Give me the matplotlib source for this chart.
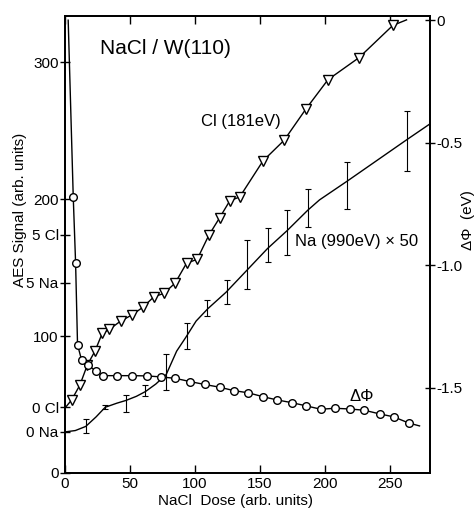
import matplotlib
matplotlib.use("Agg")
import matplotlib.pyplot as plt

plt.rcParams['font.family'] = ['Liberation Sans', 'DejaVu Sans']

# Cl (181 eV) AES signal, open triangles (left axis)
dose_cl = [5.1, 11.5, 17.2, 23.1, 28.7, 34.1, 42.8, 51.3, 59.8, 68.5, 76.2, 84.8,
           93.6, 101.8, 110.8, 119.2, 126.9, 134.6, 152.5, 168.7, 185.6, 202.5,
           226.4, 252.5]
cl = [53.3, 64.2, 78.8, 89.0, 102.0, 104.9, 110.9, 115.3, 120.9, 128.7, 131.2,
      138.7, 153.2, 156.1, 173.7, 186.6, 198.8, 201.7, 228.0, 243.0, 266.0,
      287.3, 303.4, 327.0]
cl_line_x = [0.5] + dose_cl + [263.0]
cl_line_y = [48.0] + cl + [331.0]

# Na (990 eV) x 50 AES signal with error bars (left axis)
dose_na = [16.2, 30.8, 46.7, 62.0, 77.7, 93.6, 109.5, 124.4, 140.2, 156.4,
           171.0, 187.2, 217.2, 263.6]
na = [34.1, 48.0, 50.9, 60.2, 73.7, 100.1, 120.4, 132.1, 152.3, 166.4, 175.5,
      193.8, 209.9, 242.6]
na_err = [5.1, 1.5, 6.0, 4.0, 13.0, 9.6, 5.8, 8.8, 18.2, 12.2, 16.4, 14.0,
          17.4, 22.0]
na_curve_x = [0, 8, 16, 24, 31, 40, 47, 55, 62, 70, 78, 86, 93, 101, 110, 124,
              140, 156, 171, 187, 196, 217, 264, 281]
na_curve_y = [30, 31, 34, 41, 48, 51, 53, 56, 59.5, 65, 72, 89, 99, 111, 120,
              132, 148, 164, 177, 192, 199.5, 213, 244, 255]

# work function change, open circles (right axis, eV)
dose_phi = [6.4, 8.2, 9.7, 12.8, 17.4, 23.6, 29.0, 40.3, 51.8, 62.8, 73.8, 85.0,
            96.2, 107.6, 119.0, 130.0, 141.2, 152.6, 163.3, 174.5, 185.6, 197.0,
            208.0, 219.2, 230.5, 242.3, 253.1, 264.6]
phi = [-0.722, -0.989, -1.324, -1.386, -1.406, -1.430, -1.450, -1.450, -1.450,
       -1.451, -1.455, -1.461, -1.474, -1.486, -1.497, -1.511, -1.520, -1.536,
       -1.549, -1.560, -1.573, -1.587, -1.583, -1.586, -1.591, -1.606, -1.618,
       -1.643]
phi_line_x = [2.5] + dose_phi + [273.0]
phi_line_y = [0.0] + phi + [-1.655]

left_ticks = [0, 30, 48, 100, 139, 174, 200, 300]
left_labels = ['0', '0 Na', '0 Cl', '100', '5 Na', '5 Cl', '200', '300']
x_ticks = [0, 50, 100, 150, 200, 250]
right_ticks = [0.0, -0.5, -1.0, -1.5]
right_labels = ['0', '-0.5', '-1.0', '-1.5']

fig = plt.figure(figsize=(4.74, 5.12), dpi=100)
ax = fig.add_axes([0.137, 0.0762, 0.770, 0.893])
ax2 = ax.twinx()

ax.plot(cl_line_x, cl_line_y, color='black', lw=1.0)
ax.plot(dose_cl, cl, 'v', ms=6.5, mfc='white', mec='black', mew=1.0)

ax.plot(na_curve_x, na_curve_y, color='black', lw=1.0)
ax.errorbar(dose_na, na, yerr=na_err, fmt='none', ecolor='black',
            elinewidth=0.8, capsize=2.5, capthick=0.8)

ax2.plot(phi_line_x, phi_line_y, color='black', lw=1.0)
ax2.plot(dose_phi, phi, 'o', ms=5.5, mfc='white', mec='black', mew=1.0)

ax.set_xlim(0, 281)
ax.set_ylim(0, 334)
ax2.set_ylim(-1.847, 0.018)

ax.set_xticks(x_ticks)
ax.set_yticks(left_ticks)
ax.set_yticklabels(left_labels)
ax2.set_yticks(right_ticks)
ax2.set_yticklabels(right_labels)

ax.tick_params(axis='x', direction='in', length=6, width=1.0, labelsize=11,
               top=True, pad=3)
ax.tick_params(axis='y', direction='inout', length=7, width=1.0, labelsize=11,
               pad=1)
ax2.tick_params(axis='y', direction='inout', length=7, width=1.0, labelsize=11,
                pad=1)
for a in (ax, ax2):
    for s in a.spines.values():
        s.set_linewidth(1.3)

ax.set_xlabel('NaCl  Dose (arb. units)', fontsize=11)
ax.xaxis.set_label_coords(0.466, -0.045)
ax.set_ylabel('AES Signal (arb. units)', fontsize=11)
ax.yaxis.set_label_coords(-0.104, 0.575)
ax2.set_ylabel('\u0394\u03a6  (eV)', fontsize=11, rotation=90)
ax2.yaxis.set_label_coords(1.085, 0.554)

ax.text(27, 310, 'NaCl / W(110)', fontsize=15, ha='left', va='center')
ax.text(105, 257, 'Cl (181eV)', fontsize=12, ha='left', va='center')
ax.text(177, 169, 'Na (990eV) \u00d7 50', fontsize=12, ha='left', va='center')
ax2.text(219, -1.533, '\u0394\u03a6', fontsize=12, ha='left', va='center')

fig.savefig('out.png', dpi=100)
